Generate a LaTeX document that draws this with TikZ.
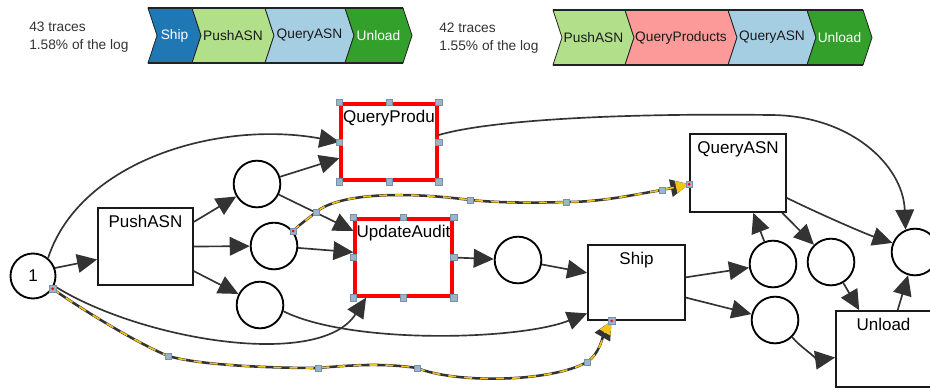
\documentclass[tikz,border=0pt]{standalone}
\usepackage{fontspec}
\setmainfont{Liberation Sans}
\usetikzlibrary{arrows.meta}

\definecolor{edgegray}{HTML}{333333}
\definecolor{chevline}{HTML}{222222}
\definecolor{chevtext}{HTML}{1A1A1A}
\definecolor{infotext}{HTML}{333333}
\definecolor{shipblue}{HTML}{1F78B4}
\definecolor{pushgreen}{HTML}{B2DF8A}
\definecolor{asnblue}{HTML}{A6CEE3}
\definecolor{unloadgreen}{HTML}{33A02C}
\definecolor{prodpink}{HTML}{FB9A99}
\definecolor{hlyellow}{HTML}{F2C318}
\definecolor{handlefill}{HTML}{9DB3C8}
\definecolor{handleedge}{HTML}{7890A8}

% one chevron of a trace variant: x0, x1, top, bottom, fill, text colour, text, node name
\newcommand\bannerchevron[8]{%
  \filldraw[fill=#5, draw=chevline, line width=0.6pt]
    (#1,#3) -- (#2,#3) -- ({#2+9},{(#3+#4)/2}) -- (#2,#4) -- (#1,#4)
    -- ({#1+9},{(#3+#4)/2}) -- cycle;
  \node[bannertext, text=#6] (#8) at ({(#1+#2)/2+4.5},{(#3+#4)/2}) {#7};
}

\begin{document}
\begin{tikzpicture}[x=0.75pt, y=-0.75pt,
  bannertext/.style={font=\fontsize{10.3pt}{12pt}\selectfont, inner sep=0pt},
  infolabel/.style={font=\fontsize{10.3pt}{12pt}\selectfont, text=infotext, inner sep=0pt, anchor=west},
  place/.style={circle, draw=black, line width=1.4pt, fill=white, minimum size=35pt, inner sep=0pt},
  trans/.style={rectangle, draw=black!90, line width=1.3pt, fill=white, inner sep=0pt},
  selected/.style={trans, draw=red, line width=2.4pt},
  tlabel/.style={font=\fontsize{12.75pt}{15pt}\selectfont, inner sep=0pt, outer sep=0pt, anchor=north},
  edge/.style={draw=edgegray, line width=1.25pt, -{Triangle[length=15pt,width=14pt]}},
  hlbase/.style={draw=edgegray, line width=1.9pt, -{Triangle[length=14pt,width=13pt]}},
  hldash/.style={draw=hlyellow, line width=1.2pt, dash pattern=on 6pt off 6pt,
    -{Triangle[length=10pt,width=9pt,fill=hlyellow]}},
  handle/.style={rectangle, draw=handleedge, fill=handlefill, line width=0.4pt,
    minimum size=4.8pt, inner sep=0pt},
  endhandle/.style={handle, path picture={\fill[red] (path picture bounding box.center) circle (1.1pt);}}
]
\useasboundingbox (0,0) rectangle (930,390);
\clip (0,0) rectangle (930,390);
\fill[white] (0,0) rectangle (930,390);

% ---------- trace variant banners ----------
\node[infolabel] (infoA1) at (29,27) {43 traces};
\node[infolabel] (infoA2) at (29,46) {1.58\% of the log};
\bannerchevron{148}{192}{8}{63}{shipblue}{white}{Ship}{bShip}
\bannerchevron{192}{265}{8}{63}{pushgreen}{chevtext}{PushASN}{bPush}
\bannerchevron{265}{345}{8}{63}{asnblue}{chevtext}{QueryASN}{bAsn}
\bannerchevron{345}{403}{8}{63}{unloadgreen}{white}{Unload}{bUnload}
\draw[chevline, line width=1.4pt] (148,8) -- (403,8) (148,63) -- (403,63);

\node[infolabel] (infoB1) at (439,28) {42 traces};
\node[infolabel] (infoB2) at (439,47) {1.55\% of the log};
\bannerchevron{553}{625}{10}{65}{pushgreen}{chevtext}{PushASN}{cPush}
\bannerchevron{625}{728}{10}{65}{prodpink}{chevtext}{QueryProducts}{cProd}
\bannerchevron{728}{807}{10}{65}{asnblue}{chevtext}{QueryASN}{cAsn}
\bannerchevron{807}{863}{10}{65}{unloadgreen}{white}{Unload}{cUnload}
\draw[chevline, line width=1.4pt] (553,10) -- (863,10) (553,65) -- (863,65);

% ---------- Petri net ----------
\node[place, minimum size=33.75pt] (one) at (33,276) {\fontsize{12.75pt}{15pt}\selectfont 1};
\node[trans, minimum width=71.25pt, minimum height=57.75pt] (push) at (145.5,246.5) {};
\node[tlabel] (pushL) at ([yshift=-6pt]push.north) {PushASN};

\node[place] (c1) at (257,184) {};
\node[place] (c2) at (274,246) {};
\node[place] (c3) at (260,305) {};

\node[selected, minimum width=72pt, minimum height=57pt] (qp) at (389,142) {};
\node[tlabel] (qpL) at ([yshift=-6pt]qp.north) {QueryProdu};
\node[selected, minimum width=72.75pt, minimum height=57.75pt] (ua) at (403.5,257.5) {};
\node[tlabel] (uaL) at ([yshift=-6pt]ua.north) {UpdateAudit};
% heavier right and bottom edges of the selection frames
\draw[red, line width=1.2pt] ([xshift=-1.6pt]qp.north east) -- ([xshift=-1.6pt,yshift=1.6pt]qp.south east)
  -- ([yshift=1.6pt]qp.south west);
\draw[red, line width=1.2pt] ([xshift=-1.6pt]ua.north east) -- ([xshift=-1.6pt,yshift=1.6pt]ua.south east)
  -- ([yshift=1.6pt]ua.south west);

\node[place] (c4) at (518,260) {};
\node[trans, minimum width=72.75pt, minimum height=56.25pt] (ship) at (636.5,282.5) {};
\node[tlabel] (shipL) at ([yshift=-6pt]ship.north) {Ship};

\node[trans, minimum width=72pt, minimum height=58.5pt] (qa) at (738,173) {};
\node[tlabel] (qaL) at ([yshift=-6pt]qa.north) {QueryASN};

\node[place] (d1) at (773,264) {};
\node[place] (d2) at (831,262) {};
\node[place] (d3) at (775,320) {};
\node[place] (fin) at (915,252) {};
\node[trans, minimum width=71.25pt, minimum height=57pt] (ul) at (883.5,349) {};
\node[tlabel] (ulL) at ([yshift=-6pt]ul.north) {Unload};

% arcs
\draw[edge] (one.20) -- (push.195);
\draw[edge] (one.50) .. controls (80,160) and (220,120) .. (qp.west);
\draw[edge] (one.-25) .. controls (140,340) and (320,370) .. (ua.227);
\draw[edge] (push.27) -- (c1);
\draw[edge] (push.east) -- (c2);
\draw[edge] (push.-27) -- (c3);
\draw[edge] (c1) -- (qp.198);
\draw[edge] (c1) -- (ua.152);
\draw[edge] (c2) -- (ua.174);
\draw[edge] (c3.-15) .. controls (352,345) and (520,340) .. (ship.212);
\draw[edge] (qp.8) .. controls (490,120) and (620,113) .. (770,115)
  .. controls (850,115) and (903,165) .. (fin.113);
\draw[edge] (ua.east) -- (c4);
\draw[edge] (c4) -- (ship.169);
\draw[edge] (ship.6) -- (d1);
\draw[edge] (ship.-17) -- (d3);
\draw[edge] (d1) -- (qa.-69);
\draw[edge] (qa.-42) -- (d2);
\draw[edge] (qa.-27) .. controls (811,210) and (863,233) .. (fin.158);
\draw[edge] (d2) -- (ul.122);
\draw[edge] (d3.-45) .. controls +(8,10) and +(-15,2) .. (ul.190);
\draw[edge] (ul.70) -- (fin);

% highlighted deviation arcs with their bend points
\coordinate (h1) at (168,356);
\coordinate (h2) at (318,368);
\coordinate (h3) at (417,368);
\coordinate (h4) at (587,362);
\coordinate (h5) at (316,212);
\coordinate (h6) at (470,200);
\coordinate (h7) at (566,202);
\coordinate (h8) at (662,190);

\draw[hlbase] (one.-33) .. controls +(25,18) and +(-35,-15) .. (h1)
  .. controls +(35,10) and +(-40,0) .. (h2)
  .. controls +(33,-3) and +(-33,-5) .. (h3)
  .. controls +(40,16) and +(-35,20) .. (h4)
  .. controls +(12,-7) and +(-8,14) .. (ship.237);
\draw[hldash] (one.-33) .. controls +(25,18) and +(-35,-15) .. (h1)
  .. controls +(35,10) and +(-40,0) .. (h2)
  .. controls +(33,-3) and +(-33,-5) .. (h3)
  .. controls +(40,16) and +(-35,20) .. (h4)
  .. controls +(12,-7) and +(-8,14) .. (ship.237);

\draw[hlbase] (c2.38) .. controls +(8,-8) and +(-8,7) .. (h5)
  .. controls +(25,-20) and +(-60,-8) .. (h6)
  .. controls +(30,3) and +(-30,1) .. (h7)
  .. controls +(35,0) and +(-30,5) .. (h8) -- (qa.193);
\draw[hldash] (c2.38) .. controls +(8,-8) and +(-8,7) .. (h5)
  .. controls +(25,-20) and +(-60,-8) .. (h6)
  .. controls +(30,3) and +(-30,1) .. (h7)
  .. controls +(35,0) and +(-30,5) .. (h8) -- (qa.193);

\node[endhandle] (hbS) at (one.-33) {};
\node[handle] (hb1) at (h1) {};
\node[handle] (hb2) at (h2) {};
\node[handle] (hb3) at (h3) {};
\node[handle] (hb4) at (h4) {};
\node[endhandle] (hbE) at (ship.237) {};
\node[endhandle] (haS) at (c2.38) {};
\node[handle] (ha5) at (h5) {};
\node[handle] (ha6) at (h6) {};
\node[handle] (ha7) at (h7) {};
\node[handle] (ha8) at (h8) {};
\node[endhandle] (haE) at (qa.193) {};

% selection handles on the two marked transitions
\foreach \a/\n in {north west/1,north/2,north east/3,east/4,south east/5,south/6,south west/7,west/8}{
  \node[handle] (qph\n) at (qp.\a) {};
  \node[handle] (uah\n) at (ua.\a) {};
}
\end{tikzpicture}
\end{document}
